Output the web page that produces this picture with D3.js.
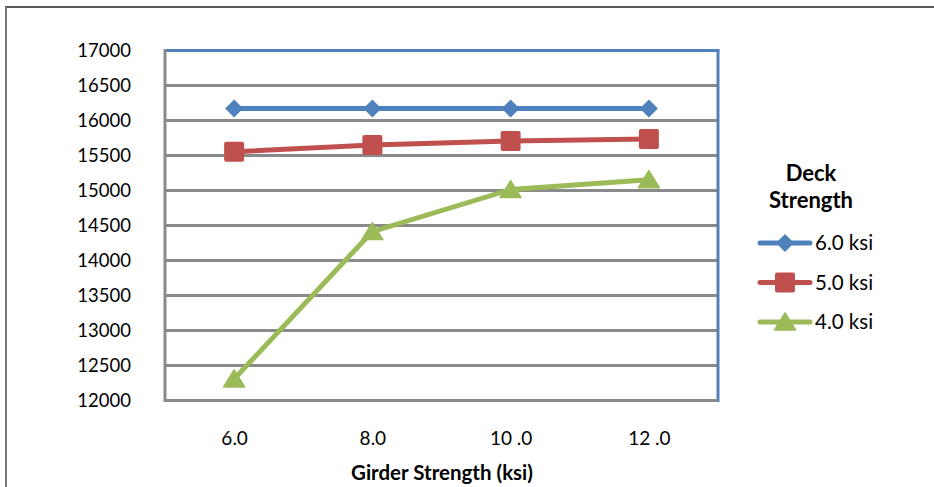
<!DOCTYPE html>
<html><head><meta charset="utf-8">
<script src="https://cdn.jsdelivr.net/npm/d3@7"></script>
<style>body{margin:0;background:#fff}svg{display:block}</style>
</head><body>
<svg id="c" width="934" height="487"></svg>
<script>
const categories = ["6.0", "8.0", "10 .0", "12 .0"];
const seriesNames = ["6.0 ksi", "5.0 ksi", "4.0 ksi"];
const deck60 = [16170, 16170, 16170, 16170];
const deck50 = [15554, 15650, 15707, 15736];
const deck40 = [12307, 14414, 15014, 15154];
const yTicks = [12000, 12500, 13000, 13500, 14000, 14500, 15000, 15500, 16000, 16500, 17000];
const colors = ["#4F81BD", "#C0504D", "#9BBB59"];
const shapes = ["diamond", "square", "triangle"];
const series = [deck60, deck50, deck40];

const svg = d3.select("#c");
const font = "Lato, 'Open Sans', sans-serif";
const L = 165, R = 718, T = 50.5, B = 400.5;

// outer frame (top & left)
svg.append("line").attr("x1", 5).attr("x2", 934).attr("y1", 7).attr("y2", 7).attr("stroke", "#222").attr("stroke-width", 1.5);
svg.append("line").attr("x1", 6).attr("x2", 6).attr("y1", 7).attr("y2", 487).attr("stroke", "#777").attr("stroke-width", 2);

const x = d3.scalePoint().domain(categories).range([L, R]).padding(0.5);
const y = d3.scaleLinear().domain([12000, 17000]).range([B, T]);

// gridlines
svg.append("g").selectAll("line").data(yTicks.slice(1, -1)).join("line")
  .attr("x1", L).attr("x2", R).attr("y1", d => y(d)).attr("y2", d => y(d))
  .attr("stroke", "#8a8a8a").attr("stroke-width", 3);
// plot border
svg.append("line").attr("x1", L).attr("x2", R + 1.5).attr("y1", T).attr("y2", T).attr("stroke", "#4F81BD").attr("stroke-width", 3);
svg.append("line").attr("x1", R).attr("x2", R).attr("y1", T).attr("y2", B + 1.5).attr("stroke", "#4F81BD").attr("stroke-width", 3);
svg.append("line").attr("x1", L).attr("x2", R).attr("y1", B).attr("y2", B).attr("stroke", "#8a8a8a").attr("stroke-width", 3);
svg.append("line").attr("x1", L).attr("x2", L).attr("y1", T - 1.5).attr("y2", B + 1.5).attr("stroke", "#8a8a8a").attr("stroke-width", 3);

// y axis labels
const yAxis = d3.axisLeft(y).tickValues(yTicks).tickSize(0).tickPadding(0).tickFormat(d3.format("d"));
const gy = svg.append("g").attr("transform", `translate(131,0)`).call(yAxis);
gy.select(".domain").remove();
gy.selectAll("text").attr("font-family", font).attr("font-size", 18.5).attr("fill", "#000").attr("dy", "0.35em");

// x axis labels
const xAxis = d3.axisBottom(x).tickSize(0).tickPadding(0);
const gx = svg.append("g").attr("transform", `translate(0,431)`).call(xAxis);
gx.select(".domain").remove();
gx.selectAll("text").attr("font-family", font).attr("font-size", 19).attr("fill", "#000").attr("dy", "0.71em");

svg.append("text").attr("x", 442).attr("y", 480).attr("text-anchor", "middle")
  .attr("font-family", font).attr("font-weight", "bold").attr("font-size", 20.5).text("Girder Strength (ksi)");

function marker(g, shape, color) {
  if (shape === "diamond") g.append("path").attr("d", "M0,-9L9,0L0,9L-9,0Z").attr("fill", color);
  else if (shape === "square") g.append("rect").attr("x", -10).attr("y", -10).attr("width", 20).attr("height", 20).attr("rx", 2).attr("fill", color);
  else g.append("path").attr("d", "M0,-9L10.5,8L-10.5,8Z").attr("fill", color).attr("stroke", color).attr("stroke-width", 1.5).attr("stroke-linejoin", "round");
}

const line = d3.line().x((d, i) => x(categories[i])).y(d => y(d));
series.forEach((s, k) => {
  svg.append("path").datum(s).attr("d", line).attr("fill", "none").attr("stroke", colors[k])
    .attr("stroke-width", 5).attr("stroke-linejoin", "round").attr("stroke-linecap", "round");
  s.forEach((v, i) => {
    const g = svg.append("g").attr("transform", `translate(${x(categories[i])},${y(v)})`);
    marker(g, shapes[k], colors[k]);
  });
});

// legend
const lg = svg.append("g");
lg.append("text").attr("x", 811).attr("y", 181).attr("text-anchor", "middle").attr("font-family", font).attr("font-weight", "bold").attr("font-size", 22).text("Deck");
lg.append("text").attr("x", 811).attr("y", 208).attr("text-anchor", "middle").attr("font-family", font).attr("font-weight", "bold").attr("font-size", 22).text("Strength");
seriesNames.forEach((n, k) => {
  const yy = 243 + k * 39.5;
  lg.append("line").attr("x1", 760).attr("x2", 810).attr("y1", yy).attr("y2", yy).attr("stroke", colors[k]).attr("stroke-width", 5).attr("stroke-linecap", "round");
  const g = lg.append("g").attr("transform", `translate(785,${yy})`);
  marker(g, shapes[k], colors[k]);
  lg.append("text").attr("x", 815).attr("y", yy).attr("dy", "0.36em").attr("font-family", font).attr("font-size", 20.5).text(n);
});
</script>
</body></html>
